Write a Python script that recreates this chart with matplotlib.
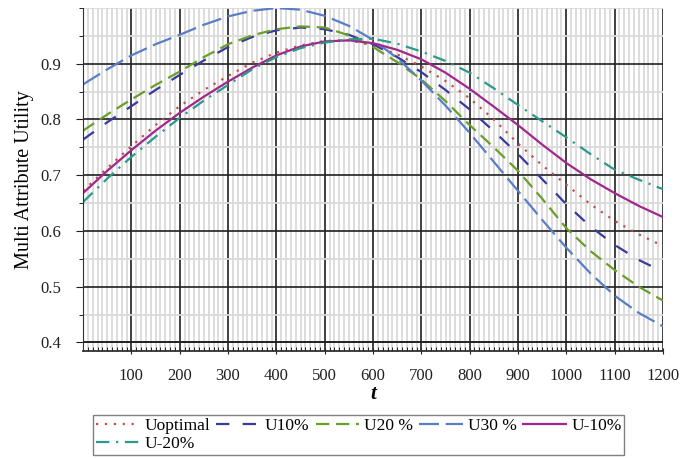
import matplotlib.pyplot as plt
import numpy as np
from matplotlib.ticker import MultipleLocator

plt.rcParams['font.family'] = ['Liberation Serif', 'DejaVu Serif']

# values every 50 time units
t = np.arange(0, 1201, 50)
u_opt = [0.672, 0.713, 0.752, 0.790, 0.824, 0.853, 0.878, 0.902, 0.920, 0.933, 0.941, 0.942, 0.933,
         0.917, 0.895, 0.869, 0.838, 0.800, 0.757, 0.718, 0.683, 0.648, 0.618, 0.594, 0.573]
u10 = [0.764, 0.795, 0.824, 0.853, 0.880, 0.906, 0.930, 0.948, 0.960, 0.965, 0.962, 0.952, 0.935,
       0.912, 0.885, 0.853, 0.818, 0.779, 0.738, 0.693, 0.648, 0.608, 0.575, 0.548, 0.527]
u20 = [0.780, 0.809, 0.836, 0.862, 0.886, 0.912, 0.935, 0.951, 0.962, 0.967, 0.965, 0.951, 0.930,
       0.903, 0.872, 0.833, 0.790, 0.750, 0.708, 0.658, 0.605, 0.564, 0.530, 0.500, 0.475]
u30 = [0.863, 0.890, 0.915, 0.935, 0.952, 0.970, 0.985, 0.995, 1.000, 0.997, 0.986, 0.968, 0.943,
       0.910, 0.870, 0.825, 0.776, 0.724, 0.672, 0.620, 0.570, 0.524, 0.484, 0.453, 0.429]
um10 = [0.668, 0.708, 0.745, 0.780, 0.812, 0.841, 0.868, 0.893, 0.915, 0.931, 0.940, 0.942, 0.937,
        0.925, 0.908, 0.884, 0.855, 0.823, 0.790, 0.755, 0.722, 0.693, 0.668, 0.645, 0.625]
um20 = [0.652, 0.694, 0.733, 0.769, 0.803, 0.834, 0.862, 0.890, 0.912, 0.928, 0.938, 0.944, 0.945,
        0.936, 0.922, 0.905, 0.884, 0.856, 0.826, 0.797, 0.768, 0.738, 0.710, 0.692, 0.675]

labels = ['Uoptimal', 'U10%', 'U20 %', 'U30 %', 'U-10%', 'U-20%']
colors = ['#c0504d', '#3a3a9e', '#6a9e2a', '#5a7ec4', '#a0288c', '#2a9a8a']
styles = [(0, (1, 3)), (0, (6, 6)), (0, (6, 3)), (0, (9, 3)), '-', (0, (6, 3, 1, 3))]

fig = plt.figure(figsize=(6.81, 4.58), dpi=100)
ax = fig.add_axes([0.122, 0.234, 0.8515, 0.7485])

lines = []
for ys, lab, c, ls in zip([u_opt, u10, u20, u30, um10, um20], labels, colors, styles):
    ln, = ax.plot(t, ys, color=c, linestyle=ls, lw=1.6, label=lab)
    lines.append(ln)

ax.set_xlim(0, 1200)
ax.set_ylim(0.385, 1.0)
ax.xaxis.set_minor_locator(MultipleLocator(10))
ax.yaxis.set_minor_locator(MultipleLocator(0.05))
ax.set_xticks(np.arange(100, 1201, 100))
ax.set_yticks([0.4, 0.5, 0.6, 0.7, 0.8, 0.9])

ax.grid(which='minor', color='#dadada', lw=1.3)
ax.grid(which='major', color='#202020', lw=1.2)
ax.axhline(0.4, color='#202020', lw=1.2)
ax.set_axisbelow(True)
for s in ['top', 'right']:
    ax.spines[s].set_visible(False)
ax.spines['left'].set_color('#303030')
ax.spines['bottom'].set_color('#303030')
ax.spines['bottom'].set_linewidth(1.3)
ax.tick_params(which='major', length=5, labelsize=12, pad=11, colors='#202020')
ax.tick_params(axis='x', which='minor', length=3, direction='in')
ax.tick_params(axis='y', which='minor', length=3)
ax.tick_params(axis='x', which='major', direction='inout', pad=10)

ax.set_ylabel('Multi Attribute Utility', fontsize=14.5, labelpad=4)
ax.set_xlabel('t', fontsize=15, fontstyle='italic', fontweight='bold', labelpad=0)

# legend fills by column, so order handles to read row-wise like the original
order = [0, 5, 1, 2, 3, 4]
fig.legend([lines[i] for i in order], [labels[i] for i in order],
           loc='upper left', bbox_to_anchor=(0.137, 0.093), ncol=5,
           fontsize=12.5, frameon=True, fancybox=False, edgecolor='#606060',
           handlelength=2.5, handletextpad=0.3, columnspacing=0.35,
           borderpad=0.15, labelspacing=0.1, borderaxespad=0)

fig.savefig('out.png', dpi=100)
